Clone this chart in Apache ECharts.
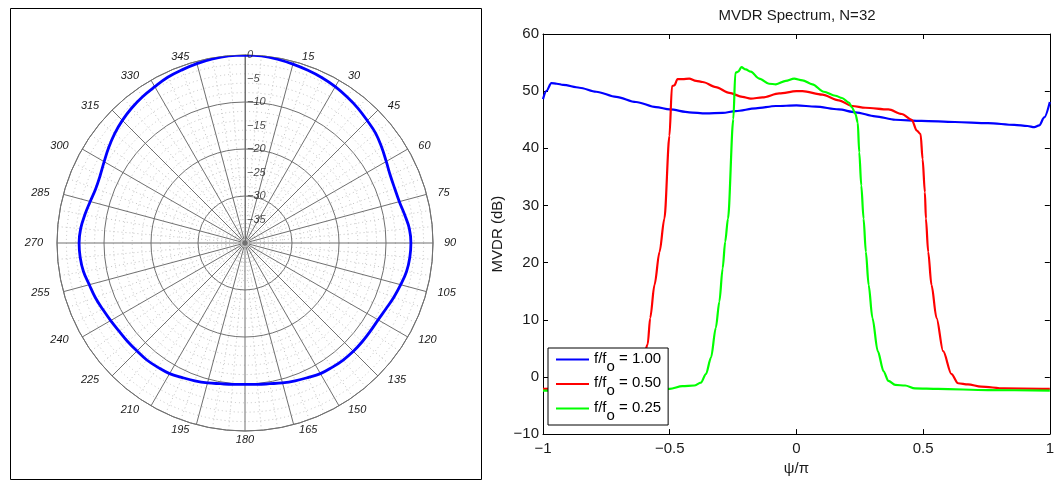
<!DOCTYPE html>
<html>
<head>
<meta charset="utf-8">
<script src="https://cdn.jsdelivr.net/npm/echarts@6/dist/echarts.min.js"></script>
<style>
  html, body { margin: 0; padding: 0; background: #fff; }
  #chart { width: 1057px; height: 481px; }
</style>
</head>
<body>
<div id="chart"></div>
<script>
// ---- Beam pattern (left panel): gain in dB versus azimuth in degrees ----
const patternAngle = [
  0, 5, 10, 15, 20, 25, 30, 35, 40, 45, 50, 55, 60, 65, 70, 75, 80, 85, 90,
  95, 100, 105, 110, 115, 120, 125, 130, 135, 140, 145, 150, 155, 160, 165, 170, 175, 180,
  185, 190, 195, 200, 205, 210, 215, 220, 225, 230, 235, 240, 245, 250, 255, 260, 265, 270,
  275, 280, 285, 290, 295, 300, 305, 310, 315, 320, 325, 330, 335, 340, 345, 350, 355, 360
];
const patternGain = [
  0, -0.05, -0.3, -0.6, -0.9, -1.2, -1.6, -2.1, -2.6, -3.2, -3.7, -4.5, -5.3, -5.9, -6.1, -6.0, -5.5, -4.9, -4.7,
  -4.8, -5.1, -5.7, -6.3, -6.9, -7.3, -7.4, -7.4, -7.4, -7.5, -7.7, -7.9, -8.4, -8.8, -9.2, -9.6, -9.8, -9.9,
  -9.8, -9.6, -9.2, -8.8, -8.4, -7.9, -7.7, -7.5, -7.5, -7.4, -7.3, -7.0, -6.6, -6.1, -5.7, -5.1, -4.8, -4.7,
  -4.9, -5.4, -5.9, -6.2, -6.0, -5.4, -4.6, -3.8, -3.1, -2.5, -2.0, -1.6, -1.1, -0.8, -0.5, -0.25, -0.05, 0
];
const radialTicks = [0, -5, -10, -15, -20, -25, -30, -35];

// ---- MVDR spectrum (right panel): dB versus psi/pi ----
const psiA = [-1, -0.987, -0.967, -0.945, -0.921, -0.856, -0.79, -0.711, -0.633, -0.554, -0.5, -0.423,
  -0.357, -0.291, -0.24, -0.16, -0.081, 0, 0.076, 0.167, 0.233, 0.311, 0.39, 0.494, 0.625, 0.756,
  0.86, 0.912, 0.939, 0.958, 0.978, 1];
const mvdrA = [48.6, 50.0, 51.4, 51.3, 51.1, 50.6, 49.9, 49.0, 48.1, 47.2, 46.8, 46.3,
  46.1, 46.2, 46.5, 47.0, 47.4, 47.5, 47.3, 46.8, 46.3, 45.6, 45.0, 44.8, 44.6, 44.4,
  44.1, 43.9, 43.7, 44.0, 45.4, 48.1];

const psiB = [-1, -0.9, -0.8, -0.72, -0.67, -0.645, -0.625, -0.605, -0.587, -0.577, -0.56, -0.54,
  -0.521, -0.501, -0.491, -0.482, -0.469, -0.449, -0.423, -0.396, -0.37, -0.318, -0.265, -0.213,
  -0.18, -0.134, -0.068, 0, 0.024, 0.102, 0.167, 0.22, 0.272, 0.363, 0.416, 0.455, 0.475, 0.49,
  0.498, 0.507, 0.511, 0.52, 0.533, 0.553, 0.579, 0.612, 0.638, 0.677, 0.729, 0.82, 1];
const mvdrB = [-2.1, -2.0, -1.9, -1.6, -1.3, -0.5, 1.0, 3.2, 5.7, 10.3, 16.1, 21.9,
  27.7, 42.2, 50.9, 51.0, 52.1, 52.1, 52.2, 51.8, 51.6, 50.7, 49.7, 49.0,
  48.7, 48.9, 49.6, 50.0, 50.0, 49.4, 48.4, 47.4, 47.1, 46.8, 46.0, 45.0, 43.1, 42.5,
  38.1, 32.3, 27.7, 21.9, 16.1, 10.3, 4.5, 0.5, -1.1, -1.3, -1.7, -2.0, -2.1];

const psiC = [-1, -0.8, -0.6, -0.5, -0.45, -0.403, -0.377, -0.357, -0.337, -0.318, -0.304, -0.291,
  -0.281, -0.27, -0.249, -0.241, -0.23, -0.217, -0.2, -0.18, -0.147, -0.108, -0.081, -0.042,
  -0.009, 0.024, 0.063, 0.108, 0.154, 0.18, 0.207, 0.22, 0.233, 0.242, 0.248, 0.256, 0.265,
  0.274, 0.285, 0.3, 0.321, 0.344, 0.363, 0.39, 0.429, 0.468, 0.559, 0.755, 1];
const mvdrC = [-2.4, -2.3, -2.2, -2.1, -1.6, -1.5, -1.0, 0.5, 3.4, 8.6, 13.2, 19.0,
  23.7, 27.7, 45.1, 53.2, 53.4, 54.2, 53.8, 53.4, 52.2, 51.3, 51.2, 51.8,
  52.2, 51.9, 51.2, 49.9, 49.2, 48.8, 48.0, 47.1, 46.0, 44.5, 39.3, 33.5, 27.7,
  21.9, 16.1, 10.3, 4.5, 1.0, -0.7, -1.4, -1.5, -2.0, -2.1, -2.3, -2.4];

const ratioNames = ['1.00', '0.50', '0.25'];
const xTicks = [-1, -0.5, 0, 0.5, 1];
const yTicks = [-10, 0, 10, 20, 30, 40, 50, 60];

const FONT = '"Liberation Sans", Arial, Helvetica, sans-serif';
const minusSign = v => String(v).replace('-', '\u2212');
const pairs = (xs, ys) => xs.map((x, i) => [x, ys[i]]);

const gridGray = '#707070';
const dotGray = '#c4c4c4';
const labelInk = '#1a1a1a';

// Azimuth labels: a tiny line height keeps each glyph row centred on its
// anchor point; side padding pushes east labels right and west labels left.
function azimuthLabel(v) {
  if (v === 0 || v === 360) return '';
  if (v === 180) return '{s|' + v + '}';
  if (v === 15 || v === 165) return '{ec|' + v + '}';
  if (v === 195 || v === 345) return '{wc|' + v + '}';
  return (v < 180 ? '{e|' : '{w|') + v + '}';
}
const azBase = { fontFamily: FONT, fontSize: 11, fontStyle: 'italic', color: labelInk, lineHeight: 2 };
const azimuthRich = {
  e:  Object.assign({}, azBase, { padding: [0, 0, 0, 7] }),
  w:  Object.assign({}, azBase, { padding: [0, 10, 0, 0] }),
  ec: Object.assign({}, azBase, { padding: [0, 0, 0, 27] }),
  wc: Object.assign({}, azBase, { padding: [0, 30, 0, 0] }),
  s:  Object.assign({}, azBase, { padding: [8, 0, 0, 0] })
};

const chart = echarts.init(document.getElementById('chart'), null, { renderer: 'canvas' });

const option = {
  animation: false,
  backgroundColor: '#fff',
  polar: { center: [245, 243], radius: 188 },
  angleAxis: {
    type: 'value', min: 0, max: 360, interval: 15, startAngle: 90, clockwise: true,
    axisLine: { show: true, lineStyle: { color: gridGray, width: 1 } },
    axisTick: { show: false },
    minorTick: { show: false, splitNumber: 3 },
    splitLine: { show: true, lineStyle: { color: gridGray, width: 1 } },
    minorSplitLine: { show: true, lineStyle: { color: dotGray, width: 1, type: [1, 3] } },
    axisLabel: {
      show: true, margin: 4,
      fontFamily: FONT, fontSize: 11, fontStyle: 'italic', color: labelInk,
      formatter: azimuthLabel, rich: azimuthRich
    }
  },
  radiusAxis: {
    type: 'value', min: -40, max: 0, interval: 10,
    axisLine: { show: true, lineStyle: { color: gridGray, width: 1 } },
    axisTick: { show: false },
    axisLabel: { show: false },
    minorTick: { show: false, splitNumber: 5 },
    splitLine: { show: true, lineStyle: { color: gridGray, width: 1 } },
    minorSplitLine: { show: true, lineStyle: { color: dotGray, width: 1, type: [1, 3] } }
  },
  grid: { left: 543, top: 34, width: 509, height: 403, containLabel: false },
  xAxis: [
    {
      type: 'value', min: xTicks[0], max: xTicks[xTicks.length - 1], interval: 0.5, position: 'bottom',
      name: 'ψ/π', nameLocation: 'middle', nameGap: 25,
      nameTextStyle: { fontFamily: FONT, fontSize: 15, color: labelInk },
      axisLine: { show: true, onZero: false, lineStyle: { color: '#000', width: 1 } },
      axisTick: { show: true, inside: true, length: 5, lineStyle: { color: '#000' } },
      axisLabel: { margin: 7, fontFamily: FONT, fontSize: 15, color: labelInk, formatter: minusSign },
      splitLine: { show: false }
    },
    {
      type: 'value', min: xTicks[0], max: xTicks[xTicks.length - 1], interval: 0.5, position: 'top',
      axisLine: { show: true, onZero: false, lineStyle: { color: '#000', width: 1 } },
      axisTick: { show: true, inside: true, length: 5, lineStyle: { color: '#000' } },
      axisLabel: { show: false },
      splitLine: { show: false }
    }
  ],
  yAxis: [
    {
      type: 'value', min: yTicks[0], max: yTicks[yTicks.length - 1], interval: 10, position: 'left',
      name: 'MVDR (dB)', nameLocation: 'middle', nameGap: 38,
      nameTextStyle: { fontFamily: FONT, fontSize: 15, color: labelInk },
      axisLine: { show: true, onZero: false, lineStyle: { color: '#000', width: 1 } },
      axisTick: { show: true, inside: true, length: 5, lineStyle: { color: '#000' } },
      axisLabel: { margin: 4, fontFamily: FONT, fontSize: 15, color: labelInk, formatter: minusSign },
      splitLine: { show: false }
    },
    {
      type: 'value', min: yTicks[0], max: yTicks[yTicks.length - 1], interval: 10, position: 'right',
      axisLine: { show: true, onZero: false, lineStyle: { color: '#000', width: 1 } },
      axisTick: { show: true, inside: true, length: 5, lineStyle: { color: '#000' } },
      axisLabel: { show: false },
      splitLine: { show: false }
    }
  ],
  legend: {
    orient: 'vertical', left: 548, top: 348,
    padding: [3, 7, 2, 7], itemGap: 1.5,
    itemWidth: 33, itemHeight: 14,
    backgroundColor: '#fff', borderColor: '#000', borderWidth: 1, borderRadius: 0,
    selectedMode: false,
    itemStyle: { opacity: 0 },
    data: ratioNames,
    formatter: name => '{a|f/f}{s|o}{a| = ' + name + '}',
    textStyle: {
      rich: {
        a: { fontFamily: FONT, fontSize: 15, color: '#000', verticalAlign: 'top', lineHeight: 17 },
        s: { fontFamily: FONT, fontSize: 15, color: '#000', verticalAlign: 'top', lineHeight: 17, padding: [8, 0, 0, 0] }
      }
    }
  },
  graphic: [
    {
      type: 'rect', silent: true,
      shape: { x: 10.5, y: 8.5, width: 471, height: 471 },
      style: { fill: 'none', stroke: '#000', lineWidth: 1 }
    },
    {
      type: 'text', silent: true, x: 797, y: 16,
      style: { text: 'MVDR Spectrum, N=32', font: '15px ' + FONT, fill: labelInk, align: 'center', verticalAlign: 'middle' }
    }
  ],
  series: [
    {
      name: 'pattern', type: 'line', coordinateSystem: 'polar', polarIndex: 0,
      data: patternAngle.map((a, i) => [patternGain[i], a]),
      smooth: 0.4, showSymbol: false, symbol: 'none',
      lineStyle: { color: '#0000ff', width: 2.8 }, z: 5
    },
    {
      name: 'radial ticks', type: 'scatter', coordinateSystem: 'polar', polarIndex: 0,
      data: radialTicks.map(v => [v, 0]),
      symbolSize: 0, silent: true,
      label: {
        show: true, position: 'right', distance: 2,
        fontFamily: FONT, fontSize: 11, fontStyle: 'italic', color: labelInk,
        formatter: p => minusSign(p.value[0])
      },
      z: 6
    },
    {
      name: ratioNames[0], type: 'line', xAxisIndex: 0, yAxisIndex: 0,
      data: pairs(psiA, mvdrA), smooth: 0.3, smoothMonotone: 'x', symbol: 'none',
      lineStyle: { color: '#0000ff', width: 2.2 }, itemStyle: { color: '#0000ff' }
    },
    {
      name: ratioNames[1], type: 'line', xAxisIndex: 0, yAxisIndex: 0,
      data: pairs(psiB, mvdrB), smooth: 0.3, smoothMonotone: 'x', symbol: 'none',
      lineStyle: { color: '#ff0000', width: 2.2 }, itemStyle: { color: '#ff0000' }
    },
    {
      name: ratioNames[2], type: 'line', xAxisIndex: 0, yAxisIndex: 0,
      data: pairs(psiC, mvdrC), smooth: 0.3, smoothMonotone: 'x', symbol: 'none',
      lineStyle: { color: '#00ff00', width: 2.2 }, itemStyle: { color: '#00ff00' }
    }
  ]
};

chart.setOption(option);
</script>
</body>
</html>
